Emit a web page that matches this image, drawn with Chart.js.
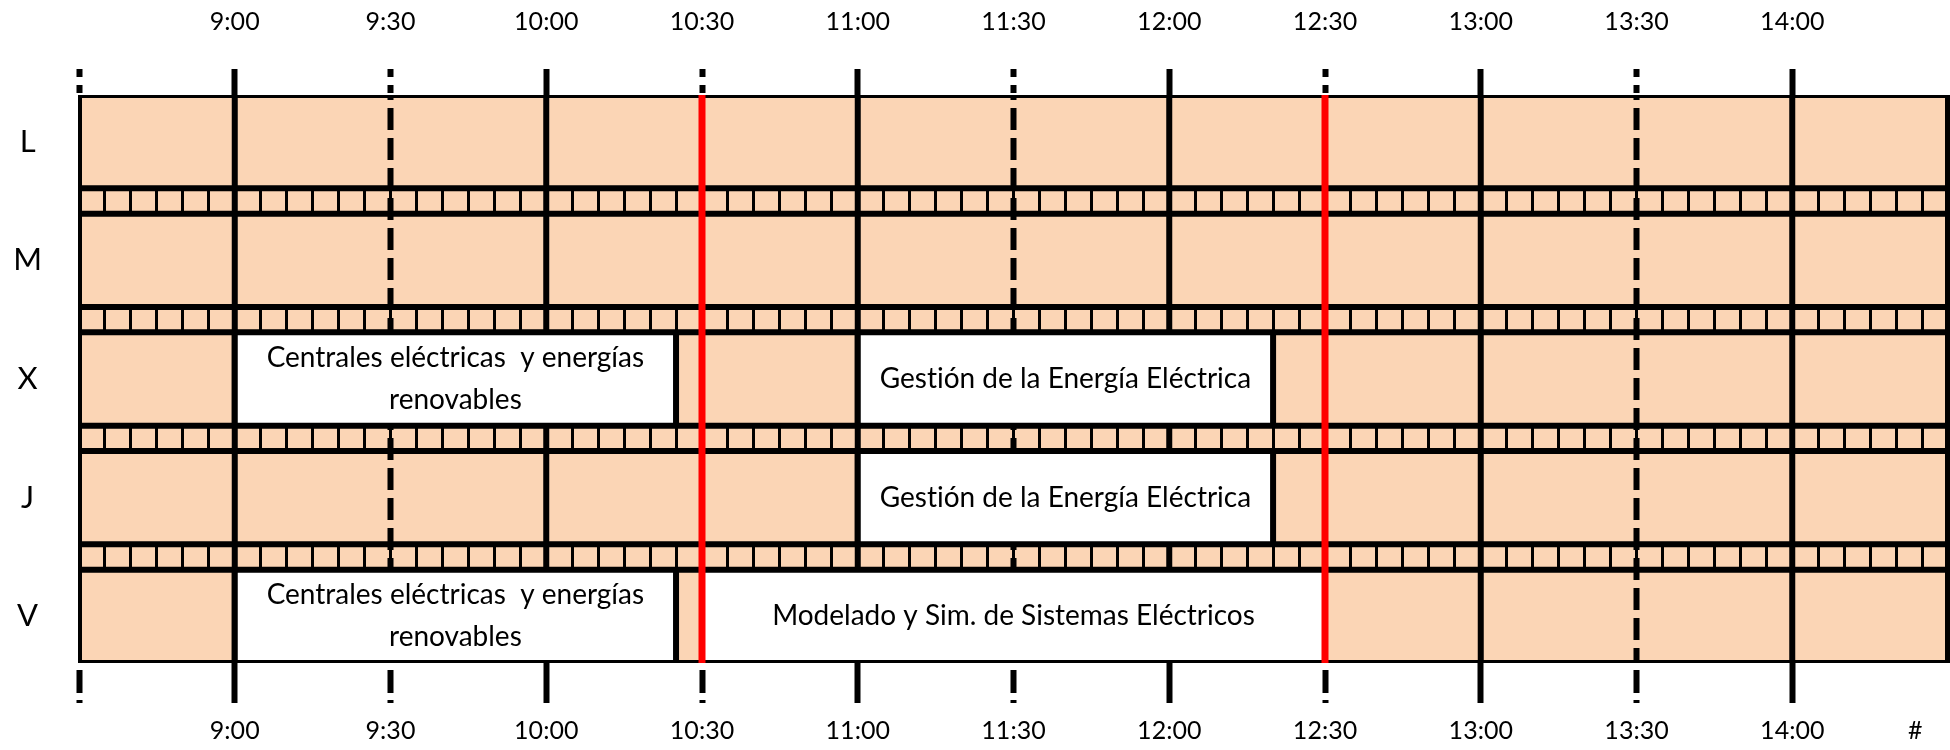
<!DOCTYPE html>
<html>
<head>
<meta charset="utf-8">
<script src="https://cdn.jsdelivr.net/npm/chart.js@4.4.1/dist/chart.umd.min.js"></script>
<style>
  html, body { margin: 0; padding: 0; background: #ffffff; }
  canvas { display: block; }
</style>
</head>
<body>
<canvas id="horario" width="1950" height="750"></canvas>
<script>
// ---------- data ----------
const days = ['L', 'M', 'X', 'J', 'V'];
const axisTimes = ['8:30', '9:00', '9:30', '10:00', '10:30', '11:00', '11:30', '12:00', '12:30', '13:00', '13:30', '14:00', '14:30'];
const markedTimes = ['8:30', '9:00', '9:30', '10:00', '10:30', '11:00', '11:30', '12:00', '12:30', '13:00', '13:30', '14:00'];
const topTickLabels = ['', '9:00', '9:30', '10:00', '10:30', '11:00', '11:30', '12:00', '12:30', '13:00', '13:30', '14:00', ''];
const bottomTickLabels = ['', '9:00', '9:30', '10:00', '10:30', '11:00', '11:30', '12:00', '12:30', '13:00', '13:30', '14:00', '#    '];
const frameLines = ['8:30', '14:30'];
const hourLines = ['9:00', '10:00', '11:00', '12:00', '13:00', '14:00'];
const halfHourLines = ['9:30', '11:30', '13:30'];
const breakLines = ['10:30', '12:30'];
const classDays = ['X', 'X', 'J', 'V', 'V'];
const classStarts = ['9:00', '11:00', '11:00', '9:00', '10:30'];
const classEnds = ['10:25', '12:20', '12:20', '10:25', '12:30'];
const classNames = [
  ['Centrales eléctricas  y energías', 'renovables'],
  ['Gestión de la Energía Eléctrica'],
  ['Gestión de la Energía Eléctrica'],
  ['Centrales eléctricas  y energías', 'renovables'],
  ['Modelado y Sim. de Sistemas Eléctricos']
];

// ---------- layout config ----------
const ROW_UNITS = 11;   // height of a day row (y-scale units)
const GAP_UNITS = 3;    // height of the 5-minute strip between rows
const SLOT_MIN = 5;     // strip cell width in minutes
const PEACH = '#FBD5B5';
const RED = '#FF0000';
const BLACK = '#000000';
const FONT = 'Lato';

Chart.defaults.font.family = FONT;
Chart.defaults.color = BLACK;

const toMin = t => { const [h, m] = t.split(':').map(Number); return h * 60 + m; };
const majorTicks = axisTimes.map(toMin);
const markedTicks = markedTimes.map(toMin);
const solidTicks = hourLines.map(toMin);
const X_MIN = majorTicks[0];
const X_MAX = majorTicks[majorTicks.length - 1];
const rowTop = i => i * (ROW_UNITS + GAP_UNITS);
const rowBottom = i => rowTop(i) + ROW_UNITS;
const rowMid = i => rowTop(i) + ROW_UNITS / 2;
const Y_MAX = rowBottom(days.length - 1);
const dayIndex = d => days.indexOf(d);

const GAP = { x: null, y: null };
const vSeg = (times, y0, y1) => times.flatMap(t => [{ x: toMin(t), y: y0 }, { x: toMin(t), y: y1 }, GAP]);
const rowEdges = days.flatMap((d, i) => [rowTop(i), rowBottom(i)])
  .flatMap(y => [{ x: X_MIN, y }, { x: X_MAX, y }, GAP]);
const classEdges = classDays.flatMap((d, k) => {
  const i = dayIndex(d);
  return vSeg([classStarts[k], classEnds[k]], rowTop(i), rowBottom(i));
});

const lineBase = {
  type: 'line', xAxisID: 'x', yAxisID: 'y', fill: false, pointRadius: 0, pointHoverRadius: 0,
  tension: 0, spanGaps: false, borderColor: BLACK
};
const barBase = {
  type: 'bar', xAxisID: 'x', yAxisID: 'y', indexAxis: 'y', grouped: false,
  categoryPercentage: 1, barPercentage: ROW_UNITS / (ROW_UNITS + GAP_UNITS), borderWidth: 0
};

const datasets = [
  { ...barBase, label: 'Franjas', data: days.map((d, i) => ({ x: [X_MIN, X_MAX], y: rowMid(i) })), backgroundColor: PEACH, order: 60 },
  { ...lineBase, label: 'Horas', data: vSeg(frameLines.concat(hourLines), 0, Y_MAX), borderWidth: 6, borderCapStyle: 'square', order: 50 },
  { ...lineBase, label: 'Medias horas', data: vSeg(halfHourLines, 0, Y_MAX), borderWidth: 6, borderDash: [22, 8], borderDashOffset: 17, borderCapStyle: 'butt', order: 49 },
  { ...barBase, label: 'Asignaturas', data: classDays.map((d, k) => ({ x: [toMin(classStarts[k]), toMin(classEnds[k])], y: rowMid(dayIndex(d)) })), backgroundColor: '#FFFFFF', order: 40 },
  { ...lineBase, label: 'Bordes', data: classEdges, borderWidth: 6, borderCapStyle: 'butt', order: 30 },
  { ...lineBase, label: 'Filas', data: rowEdges, borderWidth: 6, borderCapStyle: 'square', order: 20 },
  { ...lineBase, label: 'Descansos', data: vSeg(breakLines, 0, Y_MAX), borderColor: RED, borderWidth: 7, borderCapStyle: 'square', order: 10 }
];

// chart-area background (visible in the 5-minute strips)
const areaFill = {
  id: 'areaFill',
  beforeDraw(chart) {
    const { ctx, chartArea: a } = chart;
    ctx.save();
    ctx.fillStyle = PEACH;
    ctx.fillRect(a.left, a.top, a.right - a.left, a.bottom - a.top);
    ctx.restore();
  }
};

// subject names centred in their boxes
const boxText = {
  id: 'boxText',
  afterDatasetsDraw(chart) {
    const idx = chart.data.datasets.findIndex(ds => ds.label === 'Asignaturas');
    const meta = chart.getDatasetMeta(idx);
    const ctx = chart.ctx;
    ctx.save();
    ctx.font = '28px ' + FONT;
    if ('textRendering' in ctx) ctx.textRendering = 'optimizeSpeed';
    ctx.fillStyle = BLACK;
    ctx.textAlign = 'center';
    ctx.textBaseline = 'middle';
    meta.data.forEach((el, k) => {
      const c = el.getCenterPoint();
      const lines = classNames[k];
      lines.forEach((t, j) => ctx.fillText(t, c.x, c.y + (j - (lines.length - 1) / 2) * 42));
    });
    ctx.restore();
  }
};

const isMarked = v => markedTicks.includes(v);
const isSolid = v => solidTicks.includes(v);

new Chart(document.getElementById('horario'), {
  type: 'line',
  data: { datasets },
  plugins: [areaFill, boxText],
  options: {
    responsive: false,
    devicePixelRatio: 1,
    animation: false,
    events: [],
    layout: { padding: { left: 0, right: 2, top: 0, bottom: 0 } },
    plugins: { legend: { display: false }, tooltip: { enabled: false } },
    scales: {
      x: {
        type: 'linear', position: 'bottom', min: X_MIN, max: X_MAX, offset: false,
        border: { display: false },
        grid: {
          display: true, offset: false, drawOnChartArea: true, color: BLACK, lineWidth: 3,
          drawTicks: true, tickLength: 40, tickColor: BLACK,
          tickWidth: c => isMarked(c.tick.value) ? 6 : 0,
          tickBorderDash: c => isSolid(c.tick.value) ? [] : [23, 7],
          tickBorderDashOffset: 23
        },
        ticks: {
          stepSize: SLOT_MIN, autoSkip: false, maxRotation: 0, minRotation: 0, align: 'inner',
          padding: 13, font: { size: 25 }, color: BLACK,
          callback: v => { const k = majorTicks.indexOf(v); return k >= 0 ? bottomTickLabels[k] : ''; }
        },
        afterFit: s => { s.height = 87; s.paddingLeft = 0; s.paddingRight = 0; }
      },
      xTop: {
        type: 'linear', position: 'top', min: X_MIN, max: X_MAX, offset: false,
        border: { display: false },
        grid: {
          display: true, offset: false, drawOnChartArea: false, drawTicks: true, tickLength: 26,
          tickColor: BLACK,
          tickWidth: c => isMarked(c.tick.value) ? 6 : 0,
          tickBorderDash: c => isSolid(c.tick.value) ? [] : [8, 8]
        },
        ticks: {
          stepSize: 30, autoSkip: false, maxRotation: 0, minRotation: 0,
          padding: 32, font: { size: 25 }, color: BLACK,
          callback: v => { const k = majorTicks.indexOf(v); return k >= 0 ? topTickLabels[k] : ''; }
        },
        afterFit: s => { s.height = 95; s.paddingLeft = 0; s.paddingRight = 0; }
      },
      y: {
        type: 'linear', position: 'left', min: 0, max: Y_MAX, reverse: true, offset: false,
        border: { display: false },
        grid: { display: false, drawTicks: false },
        afterBuildTicks: s => { s.ticks = days.map((d, i) => ({ value: rowMid(i) })); },
        ticks: {
          autoSkip: false, crossAlign: 'center', padding: 37, font: { size: 31 }, color: BLACK,
          callback: (v, i) => days[i]
        },
        afterFit: s => { s.width = 79; s.paddingTop = 0; s.paddingBottom = 0; }
      }
    }
  }
});
</script>
</body>
</html>
